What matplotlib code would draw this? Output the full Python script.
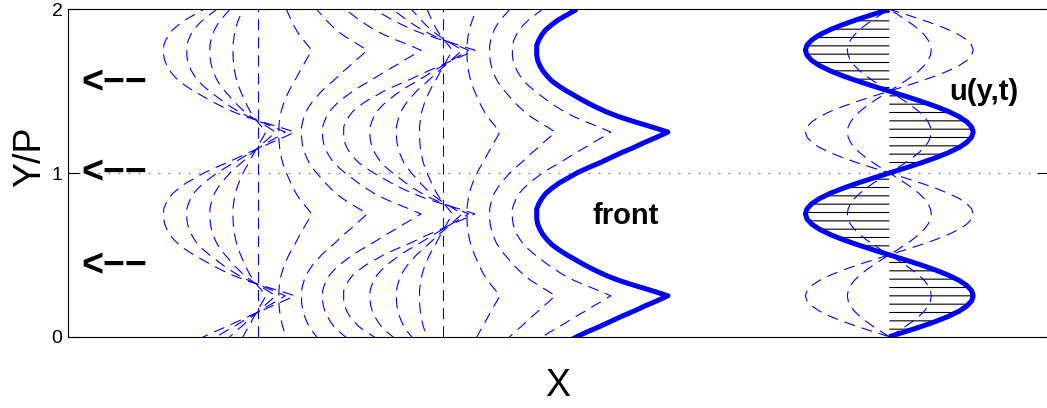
import numpy as np
import matplotlib
matplotlib.use('Agg')
import matplotlib.pyplot as plt

plt.rcParams['font.family'] = ['Liberation Sans', 'DejaVu Sans']
plt.rcParams['lines.scale_dashes'] = False  # 虚线长度按点数直接给出
plt.rcParams['hatch.linewidth'] = 0.8

# 一个周期内的采样点 y/P = 0, 1/32, ..., 1
y_period = np.linspace(0, 1, 33)

# 火焰锋面形状（尖点在 y/P=0.25，圆弧最左端在 0.75），单位 P
front_shape = np.array([
    0.000, 0.067, 0.141, 0.208, 0.275, 0.349, 0.416, 0.489, 0.557,
    0.459, 0.355, 0.257, 0.177, 0.110, 0.049, -0.006, -0.061,
    -0.110, -0.153, -0.183, -0.208, -0.226, -0.239, -0.245, -0.245,
    -0.245, -0.232, -0.214, -0.190, -0.153, -0.110, -0.055, 0.000])

# 各时刻锋面：y=0 处位置、形状幅度、尖点所在 y
front_base = [0.83, 0.91, 0.99, 1.07, 1.16, 1.35, 1.55, 1.74, 1.93,
              2.03, 2.13, 2.21, 2.29, 2.50, 2.70, 2.90]
front_amp = [1.0, 0.75, 0.5, 0.25, 0.0, 0.25, 0.5, 0.75, 1.0,
             0.75, 0.5, 0.25, 0.0, 0.25, 0.5, 0.75]
front_cusp = [0.25, 0.25, 0.25, 0.25, 0.25, 0.75, 0.75, 0.75, 0.75,
              0.75, 0.75, 0.75, 0.25, 0.25, 0.25, 0.25]
# 当前时刻的锋面（粗线）
front_now_base = 3.11
front_now_amp = 1.0

# 速度剖面 u(y,t) 一个周期，单位 P
u_shape = np.array([
    0.000, 0.100, 0.196, 0.285, 0.363, 0.427, 0.474, 0.503, 0.513,
    0.503, 0.474, 0.427, 0.363, 0.285, 0.196, 0.100, 0.000,
    -0.100, -0.196, -0.285, -0.363, -0.427, -0.474, -0.503, -0.513,
    -0.503, -0.474, -0.427, -0.363, -0.285, -0.196, -0.100, 0.000])
u_axis = 5.02
u_snap = [0.5, -0.5, -1.0]   # 其它时刻（虚线）
u_now = 1.0                  # 当前时刻（粗线）

arrow_y = [1.55, 1.0, 0.43]

blue = '#0000ff'
dash = (0, (8, 5))

# 把一个周期拼成三个周期，画的时候由坐标轴裁掉多余部分
y3 = np.concatenate([y_period[:-1] - 1, y_period[:-1], y_period + 1])
shape3 = np.concatenate([front_shape[:-1], front_shape[:-1], front_shape])
y2 = np.concatenate([y_period[:-1], y_period + 1])
u2 = np.concatenate([u_shape[:-1], u_shape])

fig = plt.figure(figsize=(10.47, 4.08), dpi=100)
ax = fig.add_axes([68 / 1047, 71.3 / 408, 980 / 1047, 327.4 / 408])

ax.axhline(1, color='0.55', lw=1.0, ls=(0, (1.4, 5.8)), zorder=1)

for b, a, c in zip(front_base, front_amp, front_cusp):
    ax.plot(b + a * shape3, y3 + (c - 0.25), color=blue, lw=0.8, ls=dash)
ax.plot(front_now_base + front_now_amp * shape3, y3, color=blue, lw=3.6,
        solid_capstyle='butt')

# 速度剖面：阴影 + 虚线 + 粗线
ax.fill_betweenx(y2, u_axis, u_axis + u_now * u2, facecolor='none',
                 edgecolor='black', lw=0, hatch='--')
for s in u_snap:
    ax.plot(u_axis + s * u2, y2, color=blue, lw=0.8, ls=dash)
ax.plot(u_axis + u_now * u2, y2, color=blue, lw=3.6, solid_capstyle='butt')

ax.text(3.41, 0.737, 'front', fontsize=21, fontweight='bold',
        ha='center', va='center')
ax.text(5.60, 1.495, 'u(y,t)', fontsize=21, fontweight='bold',
        ha='center', va='center')
for yy in arrow_y:
    ax.text(0.285, yy, '<\u2212\u2212', fontsize=27, fontweight='bold',
            ha='center', va='center')

ax.set_xlim(0, 5.99)
ax.set_ylim(0, 2)
ax.set_xticks([])
ax.set_yticks([0, 1, 2])
ax.tick_params(direction='in', length=8, right=True, labelsize=14, pad=4)
ax.set_xlabel('X', fontsize=27)
ax.xaxis.set_label_coords(0.5, -0.095)
ax.set_ylabel('Y/P', fontsize=27)
ax.yaxis.set_label_coords(-0.02, 0.549)

fig.savefig('out.png', dpi=100)
